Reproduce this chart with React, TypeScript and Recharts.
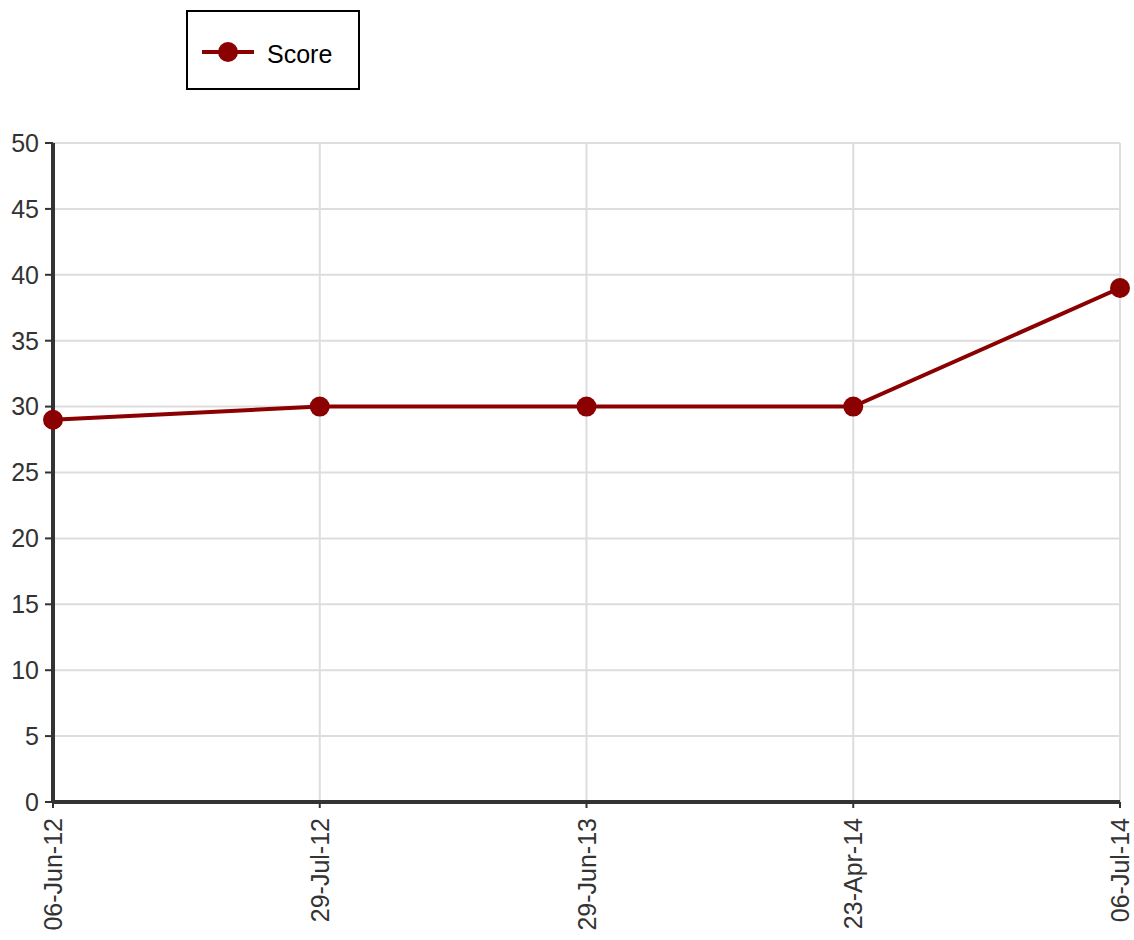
import React from 'react';
import { LineChart, Line, XAxis, YAxis, CartesianGrid } from 'recharts';

const dates = ['06-Jun-12', '29-Jul-12', '29-Jun-13', '23-Apr-14', '06-Jul-14'];
const scores = [29, 30, 30, 30, 39];
const yTicks = [0, 5, 10, 15, 20, 25, 30, 35, 40, 45, 50];

const LINE_COLOR = '#8b0000';
const AXIS_COLOR = '#333333';
const FONT = '"Liberation Sans", Arial, sans-serif';

const data = dates.map((d, i) => ({ date: d, score: scores[i] }));

// rotated date labels hanging under the x axis
const DateTick = (props: any) => {
  const { x, y, payload } = props;
  return (
    <g transform={`translate(${x},${y})`}>
      <text
        x={-8}
        y={0}
        dy="0.36em"
        textAnchor="end"
        transform="rotate(-90)"
        fill={AXIS_COLOR}
        fontSize={25}
        fontFamily={FONT}
      >
        {payload.value}
      </text>
    </g>
  );
};

const App: React.FC = () => {
  return (
    <div style={{ position: 'absolute', left: 0, top: 0, width: 1134, height: 940, background: '#fff' }}>
      <div
        style={{
          position: 'absolute',
          left: 186,
          top: 10,
          width: 170,
          height: 76,
          border: '2px solid #000',
          display: 'flex',
          alignItems: 'center',
          fontFamily: FONT,
          fontSize: 25,
          color: '#000',
        }}
      >
        <svg width={56} height={24} style={{ marginLeft: 12, marginRight: 11, position: 'relative', top: 2 }}>
          <line x1={2} y1={12} x2={54} y2={12} stroke={LINE_COLOR} strokeWidth={4} />
          <circle cx={28} cy={12} r={10} fill={LINE_COLOR} />
        </svg>
        <span style={{ position: 'relative', top: 4 }}>Score</span>
      </div>
      <LineChart
        width={1134}
        height={940}
        data={data}
        margin={{ top: 143, right: 14, bottom: 10, left: 8 }}
      >
        <CartesianGrid stroke="#dddddd" strokeWidth={2} />
        <XAxis
          dataKey="date"
          interval={0}
          height={128}
          tick={<DateTick />}
          tickSize={6}
          axisLine={{ stroke: AXIS_COLOR, strokeWidth: 4 }}
          tickLine={{ stroke: AXIS_COLOR, strokeWidth: 2 }}
        />
        <YAxis
          domain={[0, 50]}
          ticks={yTicks}
          width={45}
          tickSize={8}
          tickMargin={6}
          interval={0}
          axisLine={{ stroke: AXIS_COLOR, strokeWidth: 4 }}
          tickLine={{ stroke: AXIS_COLOR, strokeWidth: 2 }}
          tick={{ fill: AXIS_COLOR, fontSize: 25, fontFamily: FONT }}
        />
        <Line
          dataKey="score"
          stroke={LINE_COLOR}
          strokeWidth={4}
          dot={{ r: 10, fill: LINE_COLOR, stroke: LINE_COLOR, strokeWidth: 0 }}
          activeDot={false}
          isAnimationActive={false}
        />
      </LineChart>
    </div>
  );
};

export default App;
